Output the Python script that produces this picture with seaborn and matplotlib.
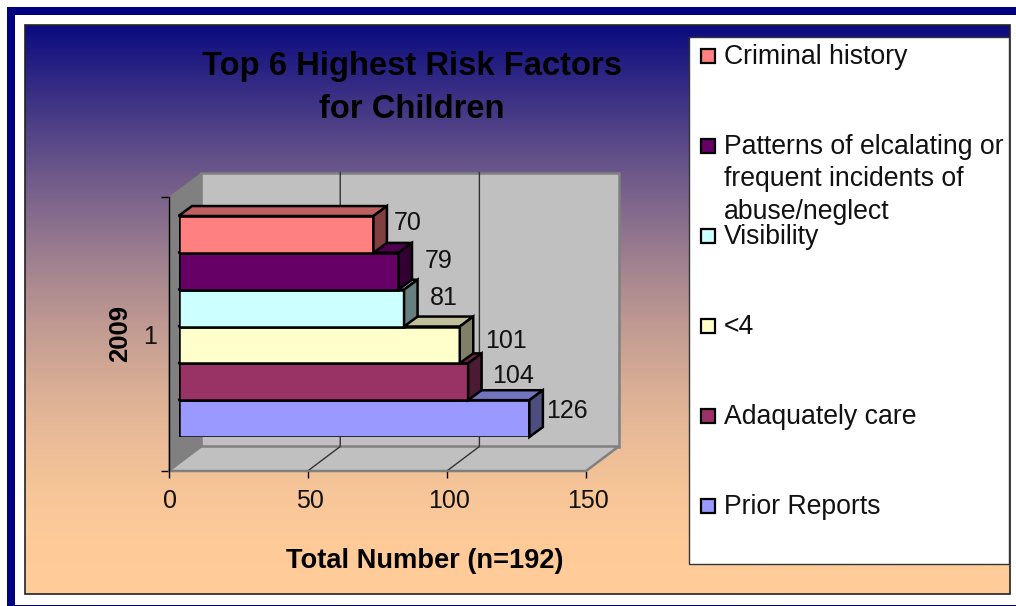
import numpy as np
import pandas as pd
import seaborn as sns
from matplotlib import pyplot as plt
from matplotlib.colors import LinearSegmentedColormap, to_rgb
from matplotlib.patches import Polygon, Rectangle
from matplotlib.transforms import ScaledTranslation

# chart values
factors = ['Criminal history', 'Patterns of elcalating or frequent incidents of abuse/neglect',
           'Visibility', '<4', 'Adaquately care', 'Prior Reports']
counts = [70, 79, 81, 101, 104, 126]
colors = ['#FF8080', '#660066', '#CCFFFF', '#FFFFCC', '#993366', '#9999FF']
x_ticks = [0, 50, 100, 150]
legend_lines = [['Criminal history'],
                ['Patterns of elcalating or', 'frequent incidents of', 'abuse/neglect'],
                ['Visibility'], ['<4'], ['Adaquately care'], ['Prior Reports']]

W, H = 1016, 606
sns.set_style('white')
plt.rcParams['font.family'] = ['Liberation Sans', 'DejaVu Sans']


def px_axes(fig, x0, y0, x1, y1):
    return fig.add_axes([x0 / W, 1 - y1 / H, (x1 - x0) / W, (y1 - y0) / H])


def shade(col, f):
    return tuple(c * f for c in to_rgb(col))


fig = plt.figure(figsize=(W / 100, H / 100), dpi=100, facecolor='white')

# background, borders and legend drawn in pixel space
bg = px_axes(fig, 0, 0, W, H)
bg.set_xlim(0, W)
bg.set_ylim(H, 0)
bg.axis('off')
bg.add_patch(Rectangle((7, 7), W, 8, color='#000080', lw=0))
bg.add_patch(Rectangle((7, 7), 8, H, color='#000080', lw=0))
bg.add_patch(Rectangle((15, 604.5), W, 1.2, color='#000080', lw=0))
grad = LinearSegmentedColormap.from_list('bgfade', ['#0C0C80', '#FFCC99'])
# the fade runs quicker near the top, so ease it
ramp = np.sin(np.linspace(0, np.pi / 2, 256)).reshape(-1, 1)
bg.imshow(ramp, cmap=grad, aspect='auto', extent=(25, 1010, 594, 25), zorder=1)
bg.set_xlim(0, W)
bg.set_ylim(H, 0)
bg.add_patch(Rectangle((25, 25), 985, 569, fill=False, ec='#222222', lw=1.2, zorder=2))
bg.add_patch(Rectangle((689, 37), 320, 527, fc='white', ec='#333333', lw=1, zorder=2))

for i, lines in enumerate(legend_lines):
    yc = 56 + 90 * i
    bg.add_patch(Rectangle((701, yc - 7), 14, 14, fc=colors[i], ec='black', lw=1.6, zorder=3))
    for k, line in enumerate(lines):
        bg.text(724, yc + 1 + 32.5 * k, line, fontsize=19.2, va='center', ha='left', color='#111111', zorder=3)

bg.text(412, 67, 'Top 6 Highest Risk Factors', fontsize=23.6, fontweight='bold', ha='center', va='center', color='black', zorder=3)
bg.text(412, 110, 'for Children', fontsize=23.6, fontweight='bold', ha='center', va='center', color='black', zorder=3)

# axis frame with the 3d walls
frame = px_axes(fig, 168.5, 197, 586, 471)
frame.set_facecolor('none')
frame.set_xlim(0, 150)
frame.set_ylim(0, 1)
dx, dy = 11.7, 0.0894
frame.add_patch(Polygon([(0, 0), (dx, dy), (dx, 1 + dy), (0, 1)], fc='#808080', ec='#808080', lw=0, clip_on=False))
frame.add_patch(Polygon([(dx, dy), (150 + dx, dy), (150 + dx, 1 + dy), (dx, 1 + dy)], fc='#C0C0C0', ec='#808080', lw=1.8, clip_on=False))
frame.add_patch(Polygon([(0, 0), (150, 0), (150 + dx, dy), (dx, dy)], fc='#C0C0C0', ec='#808080', lw=1.8, clip_on=False))
for t in x_ticks[1:-1]:
    frame.plot([t, t + dx, t + dx], [0, dy, 1 + dy], color='#333333', lw=1, clip_on=False)
frame.plot([0, 150], [0, 0], color='#808080', lw=1.2, clip_on=False)

sns.despine(ax=frame, top=True, right=True)
frame.spines['left'].set_color('black')
frame.spines['left'].set_linewidth(1)
frame.spines['bottom'].set_visible(False)
frame.set_xticks(x_ticks)
frame.set_xticklabels([str(t) for t in x_ticks], fontsize=18, color='#111111')
frame.set_yticks([0, 1])
frame.set_yticklabels(['', ''])
frame.set_yticks([0.5], labels=['1'], minor=True)
frame.tick_params(axis='y', which='minor', length=0, labelsize=18, pad=8, labelcolor='#111111')
frame.tick_params(axis='y', which='major', left=True, length=6, width=1, color='black')
frame.tick_params(axis='x', bottom=True, length=5, width=1, color='black', pad=8)
# tick numbers sit 2px right of their ticks
shift = ScaledTranslation(2 / 100, 0, fig.dpi_scale_trans)
for lab in frame.get_xticklabels():
    lab.set_transform(lab.get_transform() + shift)
frame.set_xlim(0, 150)
frame.set_ylim(0, 1)
frame.set_xlabel('Total Number (n=192)', fontsize=19.6, fontweight='bold', labelpad=25.5, x=0.613, color='black')
frame.set_ylabel('2009', fontsize=18.5, fontweight='bold', labelpad=8.5, color='black')

# bars, seaborn draws the front faces
bars = pd.DataFrame({'factor': factors, 'count': counts})
ax = px_axes(fig, 178.5, 216, 596.2, 437)
sns.barplot(data=bars, y='factor', x='count', hue='factor', order=factors, hue_order=factors,
            palette=colors, dodge=False, width=1.0, saturation=1, legend=False,
            edgecolor='black', linewidth=1.8, ax=ax)
ax.set_xlim(0, 150)
ax.set_ylim(5.5, -0.5)
ax.axis('off')

bar_dx, bar_dy = 4.85, 0.27
# label shift in pixels, the original placement is not regular
nudges = [(20, 11), (26, 10), (26, 10), (25, 4), (24, 6), (17, 8)]
for i, (c, n) in enumerate(zip(counts, colors)):
    z = 16 - i
    bar = ax.containers[i][i] if len(ax.containers[i]) > 1 else ax.containers[i][0]
    bar.set_zorder(z)
    top = bar.get_y()
    bottom = top + bar.get_height()
    ax.add_patch(Polygon([(0, top), (c, top), (c + bar_dx, top - bar_dy), (bar_dx, top - bar_dy)],
                         fc=shade(n, 0.75), ec='black', lw=1.8, zorder=z, clip_on=False))
    ax.add_patch(Polygon([(c, top), (c + bar_dx, top - bar_dy), (c + bar_dx, bottom - bar_dy), (c, bottom)],
                         fc=shade(n, 0.5), ec='black', lw=1.8, zorder=z, clip_on=False))
    ax.annotate(str(c), xy=(c, (top + bottom) / 2), xytext=nudges[i], textcoords='offset pixels',
                fontsize=18, va='center', ha='left', color='#111111', zorder=30)

fig.savefig('out.png', dpi=100)
